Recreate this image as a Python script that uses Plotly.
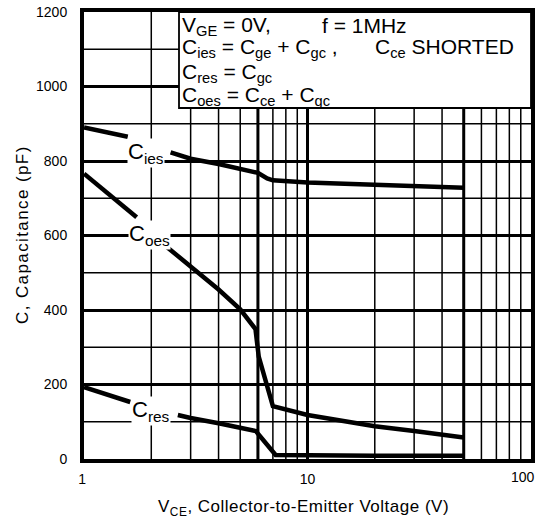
import math
import plotly.graph_objects as go

# ---- data ----
vce_cies = [1, 1.57, None, 2.44, 3, 4, 5, 6, 6.6, 7, 10, 20, 30, 50]
cies = [890, 865, None, 823, 806, 792, 780, 768, 753, 748, 742, 735, 732, 728]

vce_coes = [1, 1.72, None, 2.34, 3, 4, 5, 5.85, 6.05, 6.6, 7.0, 10, 20, 30, 40, 50]
coes = [766, 649, None, 570, 517, 455, 402, 349, 275, 189, 142, 118, 88, 75, 67, 58]

vce_cres = [1, 1.61, None, 2.63, 3, 4, 5, 5.87, 7.2, 10, 20, 50]
cres = [193, 153, None, 118, 110, 96, 84, 75, 11, 10, 9, 9]

x_ticks = [1, 10]
x_ticktext = ["1&nbsp;", "10"]
x_last_tick = 100
x_last_text = "100"
x_minor = [2, 3, 4, 5, 6, 7, 8, 9, 20, 30, 40, 50, 60, 70, 80, 90]
y_ticks = [0, 200, 400, 600, 800, 1000, 1200]
y_ticktext = ["0", "200", "400", "600", "800", "1000", "1200"]
y_minor = [100, 300, 500, 700, 900, 1100]
x_thick = [6, 10, 50]

FONT = "Liberation Sans, Arial, Helvetica, sans-serif"

# plot area in pixels (frame lines are drawn just outside it)
L, R, T, B = 84, 7, 12, 63
W, H = 538, 522
PW, PH = W - L - R, H - T - B


def px(xp):
    return (xp - L) / PW


def py(yp):
    return (H - B - yp) / PH


fig = go.Figure()
for xs, ys in [(vce_cies, cies), (vce_coes, coes), (vce_cres, cres)]:
    fig.add_trace(go.Scatter(x=xs, y=ys, mode="lines", connectgaps=False,
                             line=dict(color="black", width=4.5),
                             showlegend=False, hoverinfo="skip"))

shapes = []
# minor grid lines
for xv in x_minor:
    shapes.append(dict(type="line", xref="x", yref="paper", x0=xv, x1=xv, y0=0, y1=1,
                       line=dict(color="black", width=1.5), layer="below"))
for yv in y_minor:
    shapes.append(dict(type="line", xref="paper", yref="y", x0=0, x1=1, y0=yv, y1=yv,
                       line=dict(color="black", width=1.5), layer="below"))
for xv in x_thick:
    shapes.append(dict(type="line", xref="x", yref="paper", x0=xv, x1=xv, y0=0, y1=1,
                       line=dict(color="black", width=3), layer="below"))
# text box
shapes.append(dict(type="rect", xref="paper", yref="paper", x0=px(179), x1=1, y0=py(108), y1=1,
                   fillcolor="white", line=dict(color="black", width=1.8), layer="above"))
# heavy top/right frame edges over the box (drawn centred on the outer frame line)
shapes.append(dict(type="line", xref="paper", yref="paper", x0=px(179), x1=px(535), y0=py(10), y1=py(10),
                   line=dict(color="black", width=4), layer="above"))
shapes.append(dict(type="line", xref="paper", yref="paper", x0=px(533), x1=px(533), y0=py(463), y1=py(8),
                   line=dict(color="black", width=4), layer="above"))

ann = []
# curve labels (log axis: annotation x in log10 units)
for txt, xv, yv in [("C<sub>ies</sub>", 1.90, 822), ("C<sub>oes</sub>", 1.96, 601), ("C<sub>res</sub>", 2.0, 130)]:
    ann.append(dict(text=txt, x=math.log10(xv), y=yv, xref="x", yref="y", showarrow=False,
                    xanchor="center", yanchor="middle", bgcolor="white", borderpad=0,
                    font=dict(family=FONT, size=22, color="black")))

box_font = dict(family=FONT, size=21, color="black")
box_lines = [
    ("V<sub>GE</sub> = 0V,", 181, 22.7),
    ("f = 1MHz", 321, 22.7),
    ("C<sub>ies</sub> = C<sub>ge</sub> + C<sub>gc</sub> ,", 181, 45),
    ("C<sub>ce</sub> SHORTED", 374, 45),
    ("C<sub>res</sub> = C<sub>gc</sub>", 181, 70),
    ("C<sub>oes</sub> = C<sub>ce</sub> + C<sub>gc</sub>", 181, 93.3),
]
for txt, xp, yp in box_lines:
    ann.append(dict(text=txt, x=px(xp), y=py(yp + 2.9), xref="paper", yref="paper",
                    showarrow=False, xanchor="left", yanchor="middle", borderpad=0,
                    font=box_font))

# last x tick label (kept inside the page like the reference)
ann.append(dict(text=x_last_text, x=math.log10(x_last_tick), y=py(468), xref="x", yref="paper",
                xshift=5, showarrow=False, xanchor="right", yanchor="top", borderpad=0,
                font=dict(family=FONT, size=14, color="black")))

# axis titles
ann.append(dict(text='<span style="letter-spacing:0.5px">V<sub>CE</sub>, Collector-to-Emitter Voltage (V)</span>',
                x=px(303), y=py(508), xref="paper", yref="paper", showarrow=False,
                xanchor="center", yanchor="middle", font=dict(family=FONT, size=17, color="black")))
ann.append(dict(text='<span style="letter-spacing:1.4px">C, Capacitance (pF)</span>',
                x=px(22), y=py(235), xref="paper", yref="paper", showarrow=False, textangle=-90,
                xanchor="center", yanchor="middle", font=dict(family=FONT, size=17, color="black")))

axis_common = dict(showgrid=True, gridcolor="black", zeroline=False,
                   showline=True, mirror=True, linecolor="black", linewidth=4,
                   ticks="", ticklabeloverflow="allow")

fig.update_layout(
    width=W, height=H,
    margin=dict(l=L, r=R, t=T, b=B, autoexpand=False),
    paper_bgcolor="white", plot_bgcolor="white",
    font=dict(family=FONT, color="black"),
    shapes=shapes, annotations=ann,
    xaxis=dict(type="log", range=[0, 2], tickmode="array", tickvals=x_ticks, ticktext=x_ticktext,
               gridwidth=1.5, tickfont=dict(family=FONT, size=14, color="black"),
               ticklabelstandoff=4, **axis_common),
    yaxis=dict(range=[0, 1200], tickmode="array", tickvals=y_ticks, ticktext=y_ticktext,
               gridwidth=3, tickfont=dict(family=FONT, size=14, color="black"),
               ticklabelstandoff=10, **axis_common),
)

fig.write_html("out.html", config={"displayModeBar": False},
               post_script="document.body.style.margin='0';")
